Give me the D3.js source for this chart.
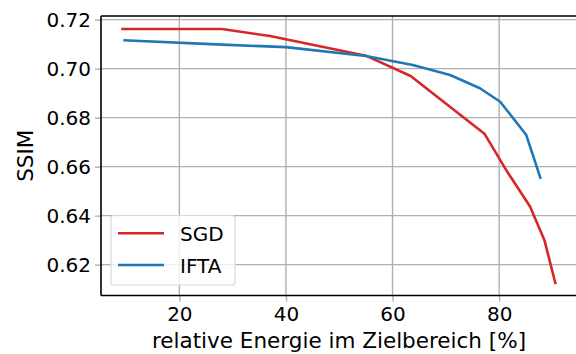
<!DOCTYPE html>
<html>
<head>
<meta charset="utf-8">
<script src="https://cdn.jsdelivr.net/npm/d3@7"></script>
<style>
  body { margin: 0; background: #fff; }
  svg { font-family: "DejaVu Sans", sans-serif; }
</style>
</head>
<body>
<div id="chart"></div>
<script>
const xTicks = [20, 40, 60, 80];
const yTicks = [0.62, 0.64, 0.66, 0.68, 0.70, 0.72];

const sgdX = [9.1, 28.0, 37.0, 55.0, 63.4, 77.3, 81.5, 85.8, 88.5, 90.6];
const sgdY = [0.7162, 0.7162, 0.7133, 0.7053, 0.6970, 0.6733, 0.6580, 0.6437, 0.6300, 0.6120];

const iftaX = [9.5, 28.0, 40.0, 55.0, 63.8, 70.8, 76.4, 80.2, 85.1, 87.8];
const iftaY = [0.7116, 0.7098, 0.7088, 0.7052, 0.7015, 0.6974, 0.6920, 0.6865, 0.6729, 0.6550];

const series = [
  { name: 'SGD', color: '#d62728', xs: sgdX, ys: sgdY },
  { name: 'IFTA', color: '#1f77b4', xs: iftaX, ys: iftaY }
];

const W = 576, H = 354;
const plot = { left: 101, right: 578, top: 16, bottom: 295.5 };

const svg = d3.select('#chart').append('svg')
  .attr('width', W).attr('height', H);

const x = d3.scaleLinear().domain([5.3, 94.8]).range([plot.left, plot.right]);
const y = d3.scaleLinear().domain([0.6074, 0.7215]).range([plot.bottom, plot.top]);

// grid
svg.append('g')
  .selectAll('line').data(xTicks).enter().append('line')
  .attr('x1', d => x(d)).attr('x2', d => x(d))
  .attr('y1', plot.top).attr('y2', plot.bottom)
  .attr('stroke', '#b0b0b0').attr('stroke-width', 1.4);

svg.append('g')
  .selectAll('line').data(yTicks).enter().append('line')
  .attr('x1', plot.left).attr('x2', plot.right)
  .attr('y1', d => y(d)).attr('y2', d => y(d))
  .attr('stroke', '#b0b0b0').attr('stroke-width', 1.4);

// axes
svg.append('g')
  .attr('transform', `translate(0,${plot.bottom})`)
  .call(d3.axisBottom(x).tickValues(xTicks).tickFormat(d3.format('d')).tickSize(6).tickPadding(5).tickSizeOuter(0))
  .call(g => g.select('.domain').remove())
  .call(g => g.selectAll('.tick line').attr('stroke', '#b0b0b0').attr('stroke-width', 1.4))
  .call(g => g.selectAll('.tick text').attr('fill', '#000').style('font-size', '20px').style('font-family', 'DejaVu Sans'));

svg.append('g')
  .attr('transform', `translate(${plot.left},0)`)
  .call(d3.axisLeft(y).tickValues(yTicks).tickFormat(d3.format('.2f')).tickSize(6).tickPadding(4).tickSizeOuter(0))
  .call(g => g.select('.domain').remove())
  .call(g => g.selectAll('.tick line').attr('stroke', '#b0b0b0').attr('stroke-width', 1.4))
  .call(g => g.selectAll('.tick text').attr('fill', '#000').style('font-size', '20px').style('font-family', 'DejaVu Sans'));

// lines
const line = d3.line()
  .x(d => x(d[0]))
  .y(d => y(d[1]));

series.forEach(s => {
  svg.append('path')
    .datum(s.xs.map((v, i) => [v, s.ys[i]]))
    .attr('fill', 'none')
    .attr('stroke', s.color)
    .attr('stroke-width', 2.6)
    .attr('stroke-linejoin', 'round')
    .attr('d', line);
});

// spines
svg.append('line')
  .attr('x1', plot.left).attr('x2', plot.left)
  .attr('y1', plot.top).attr('y2', plot.bottom)
  .attr('stroke', '#000').attr('stroke-width', 1.6);
svg.append('line')
  .attr('x1', plot.left).attr('x2', plot.right)
  .attr('y1', plot.bottom).attr('y2', plot.bottom)
  .attr('stroke', '#000').attr('stroke-width', 1.6);
svg.append('line')
  .attr('x1', plot.left).attr('x2', plot.right)
  .attr('y1', plot.top).attr('y2', plot.top)
  .attr('stroke', '#000').attr('stroke-width', 1.6);

// axis labels
svg.append('text')
  .attr('text-anchor', 'middle')
  .attr('x', 339)
  .attr('y', 348)
  .style('font-size', '21.5px')
  .text('relative Energie im Zielbereich [%]');

svg.append('text')
  .attr('text-anchor', 'middle')
  .attr('transform', 'rotate(-90)')
  .attr('x', -(plot.top + plot.bottom) / 2)
  .attr('y', 33)
  .style('font-size', '21.5px')
  .text('SSIM');

// legend
const legend = svg.append('g');
legend.append('rect')
  .attr('x', 111).attr('y', 215.5)
  .attr('width', 124).attr('height', 69.5)
  .attr('rx', 3)
  .attr('fill', '#fff').attr('fill-opacity', 0.8)
  .attr('stroke', '#d9d9d9').attr('stroke-width', 1.2);

series.forEach((s, i) => {
  const ly = 233.3 + i * 31.7;
  legend.append('line')
    .attr('x1', 118).attr('x2', 164)
    .attr('y1', ly).attr('y2', ly)
    .attr('stroke', s.color).attr('stroke-width', 2.6);
  legend.append('text')
    .attr('x', 180).attr('y', ly + 8)
    .style('font-size', '20px')
    .text(s.name);
});
</script>
</body>
</html>
